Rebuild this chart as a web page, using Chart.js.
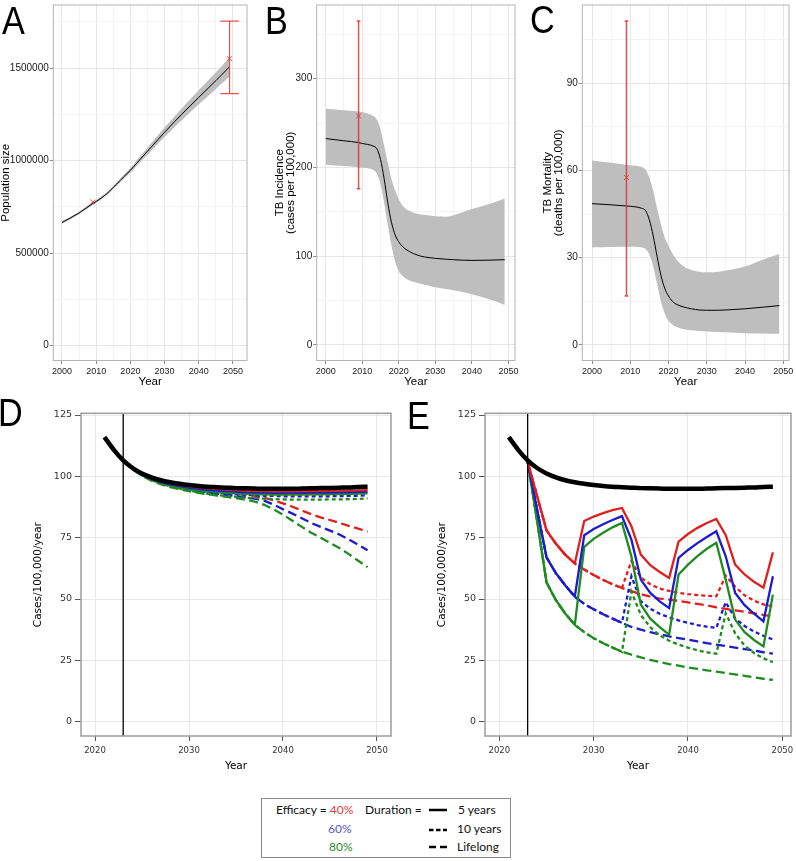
<!DOCTYPE html>
<html><head><meta charset="utf-8">
<script src="https://cdn.jsdelivr.net/npm/chart.js@4.4.0/dist/chart.umd.min.js"></script>
<style>
html,body{margin:0;padding:0;background:#fff;}
body{width:796px;height:861px;position:relative;overflow:hidden;}
.pw{position:absolute;}
.lt{position:absolute;font-family:'Liberation Sans',Arial,sans-serif;font-size:38px;line-height:38px;color:#000;transform:scaleX(0.9);transform-origin:left top;}
#legend{position:absolute;left:261px;top:798px;width:250px;height:60px;border:1px solid #8a8a8a;box-sizing:border-box;font-family:Lato,'Open Sans',sans-serif;font-size:12px;color:#111;}
.lg{position:absolute;white-space:nowrap;line-height:16px;}
.lg svg{display:block;}
</style></head><body>
<div class="pw" style="left:0;top:0;width:265px;height:395px"><canvas id="cA"></canvas></div>
<div class="pw" style="left:265px;top:0;width:265px;height:395px"><canvas id="cB"></canvas></div>
<div class="pw" style="left:530px;top:0;width:266px;height:395px"><canvas id="cC"></canvas></div>
<div class="pw" style="left:0;top:395px;width:400px;height:380px"><canvas id="cD"></canvas></div>
<div class="pw" style="left:400px;top:395px;width:396px;height:380px"><canvas id="cE"></canvas></div>
<div class="lt" style="left:2px;top:2px">A</div>
<div class="lt" style="left:265px;top:2px">B</div>
<div class="lt" style="left:530px;top:1px">C</div>
<div class="lt" style="left:-2px;top:394px">D</div>
<div class="lt" style="left:407px;top:397px">E</div>
<div id="legend">
  <div class="lg" style="left:14px;top:3px">Efficacy = <span style="color:#e03a3a">40%</span></div>
  <div class="lg" style="left:66px;top:21.5px;color:#5656d2">60%</div>
  <div class="lg" style="left:67px;top:40px;color:#2a8c2a">80%</div>
  <div class="lg" style="left:103px;top:3px">Duration =</div>
  <div class="lg" style="left:166px;top:3px"><svg width="20" height="16"><line x1="1" y1="8" x2="19" y2="8" stroke="#000" stroke-width="2.5"/></svg></div>
  <div class="lg" style="left:166px;top:21.5px"><svg width="20" height="16"><line x1="1" y1="9" x2="19" y2="9" stroke="#000" stroke-width="2.5" stroke-dasharray="4.5,2.5"/></svg></div>
  <div class="lg" style="left:166px;top:40px"><svg width="20" height="16"><line x1="1" y1="8" x2="19" y2="8" stroke="#000" stroke-width="2.5" stroke-dasharray="7,4"/></svg></div>
  <div class="lg" style="left:196px;top:3px">5 years</div>
  <div class="lg" style="left:195px;top:21.5px">10 years</div>
  <div class="lg" style="left:195px;top:40px">Lifelong</div>
</div>
<script>
// ---------------- DATA ----------------
const yearsABC = [2000,2005,2009,2010,2013,2014,2015,2016,2017,2018,2019,2020,2021,2022,2024,2026,2028,2030,2033,2035,2040,2045,2049];

// Panel A: population size
const popMid   = [665000,717000,768000,779000,819000,836000,855000,873000,892000,911000,929000,947000,968000,989000,1030000,1071000,1112000,1153000,1212000,1250000,1342000,1432000,1507000];
const popUpper = [672000,724000,776000,787000,827000,844000,864000,882000,902000,922000,941000,960000,982000,1004000,1048000,1092000,1135000,1179000,1241000,1282000,1380000,1477000,1559000];
const popLower = [658000,710000,760000,771000,811000,828000,846000,864000,882000,900000,917000,934000,954000,974000,1012000,1050000,1089000,1127000,1183000,1218000,1304000,1387000,1455000];
const popObsYears = [2009, 2049];
const popObsValues = [776000, 1551000];
const popErrYear = [2049];
const popErrLow = [1362000];
const popErrHigh = [1754000];

// Panel B: TB incidence
const incMid   = [232.5,230,228,227,224,221,209,187,160,138,124,116,111,107.5,103,100,98.5,97.5,96.5,96,95.2,95.5,96];
const incUpper = [266,264.5,263,262.5,258,254,243,224,205,187,174,164,157,153,149,147,146,145,144.5,146,153,159,165];
const incLower = [203,201.5,200,199.5,197,193,181,160,135,112,94,83,78,74.5,71,69,67,65,63,61.5,57,51,45];
const incObsYear = [2009];
const incObsValue = [258];
const incErrLow = [176];
const incErrHigh = [365];

// Panel C: TB mortality
const mortMid   = [48.6,48.2,47.8,47.7,47,46.2,43,37.5,30.5,24,19.5,16.8,15,14,13,12.4,12,11.9,11.9,12,12.4,13,13.5];
const mortUpper = [63.5,62.7,62,61.8,61.2,60.3,57.5,53,47,41.5,37,34,31.5,29.5,27,25.8,25.2,25,25.2,25.6,27,29.5,31.3];
const mortLower = [33.6,33.7,33.8,33.8,33.5,33,31,27,21,15,10.8,8.3,7,6.2,5.4,5,4.8,4.6,4.4,4.3,4,3.9,3.8];
const mortObsYear = [2009];
const mortObsValue = [57.6];
const mortErrLow = [16.8];
const mortErrHigh = [111.5];

// Panels D & E: projected incidence
const baseYears = [2021,2022,2023,2024,2025,2026,2027,2028,2029,2030,2031,2032,2033,2034,2035,2036,2037,2038,2039,2040,2041,2042,2043,2044,2045,2046,2047,2048,2049];
const baseline  = [116,110.8,106.5,103.4,101.2,99.6,98.4,97.6,97.0,96.5,96.1,95.8,95.6,95.4,95.2,95.1,95.0,94.9,94.9,94.9,94.9,95.0,95.1,95.2,95.3,95.4,95.5,95.7,95.8];
const scenYears = [2023,2024,2025,2026,2027,2028,2029,2030,2031,2032,2033,2034,2035,2036,2037,2038,2039,2040,2041,2042,2043,2044,2045,2046,2047,2048,2049];
const interventionYear = 2023;

// D
const D_r5  = [106.5,103.2,100.9,99.2,98.0,97.1,96.4,95.9,95.4,95.1,94.8,94.6,94.4,94.2,94.1,94.0,93.9,93.9,93.9,94.0,94.0,94.1,94.1,94.2,94.2,94.3,94.4];
const D_b5  = [106.5,103.1,100.7,98.9,97.6,96.7,96.0,95.4,94.9,94.5,94.2,94.0,93.8,93.6,93.5,93.4,93.3,93.3,93.3,93.3,93.4,93.4,93.5,93.5,93.6,93.7,93.8];
const D_g5  = [106.5,102.9,100.4,98.6,97.2,96.2,95.4,94.8,94.3,93.9,93.6,93.3,93.1,92.9,92.8,92.7,92.6,92.6,92.6,92.6,92.7,92.7,92.8,92.8,92.9,93.0,93.1];
const D_r10 = [106.5,103.2,100.9,99.2,98.0,97.0,96.2,95.6,95.0,94.6,94.2,93.9,93.6,93.4,93.2,93.0,92.9,92.8,92.7,92.7,92.7,92.7,92.8,92.8,92.9,93.0,93.1];
const D_b10 = [106.5,103.1,100.7,98.9,97.5,96.5,95.6,94.9,94.3,93.8,93.4,93.0,92.7,92.5,92.3,92.1,92.0,91.9,91.8,91.8,91.8,91.8,91.9,91.9,92.0,92.1,92.3];
const D_g10 = [106.5,102.9,100.4,98.5,97.0,95.9,95.0,94.2,93.5,92.9,92.4,92.0,91.6,91.3,91.1,90.9,90.7,90.6,90.5,90.5,90.5,90.5,90.6,90.6,90.7,90.8,91.0];
const D_rL  = [106.5,103.2,100.9,99.2,98.0,97.0,96.2,95.5,94.9,94.4,94.0,93.6,93.1,92.6,92.0,91.2,90.2,89.0,87.6,86.1,84.6,83.3,82.2,81.0,79.8,78.7,77.5];
const D_bL  = [106.5,103.1,100.7,98.9,97.5,96.4,95.5,94.8,94.1,93.5,93.0,92.5,92.0,91.4,90.9,90.1,88.5,86.6,84.8,82.9,81.0,79.4,77.9,76.3,74.3,72.1,69.9];
const D_gL  = [106.5,102.8,100.2,98.2,96.8,95.6,94.7,94.0,93.3,92.7,92.1,91.6,91.1,90.5,89.7,88.4,86.5,84.4,81.9,79.4,77.0,75.0,72.9,70.8,68.3,65.6,63.0];

// E
const E_r5  = [106,92,78,72.5,68,64.5,81.8,83.6,85,86.2,87.1,79.7,68.1,63.8,61,58.6,73.4,76.5,79,81,82.6,76,64,60,57,54.6,69];
const E_b5  = [106,86.5,67,60.5,55.5,51,76,78.5,80.5,82.2,83.8,74.2,57.9,52.5,49,46.3,66.8,70,72.8,75.3,77.6,67.4,52.5,47.5,44,40.9,59.3];
const E_g5  = [106,82,56.8,49.5,44,39.5,71.3,74.5,77,79.2,81,67.4,47.7,42,38.5,35.5,60,64,67.5,70.5,72.9,57.9,41.6,36.5,33.3,30.7,51.8];
const E_r10 = [106,92,78,72.5,68,64.5,62,59.8,57.8,56,54.5,65.5,58.8,56,54.3,53.3,52.5,52,51.6,51.3,51.1,59.5,55,51.5,49.3,47.8,47];
const E_b10 = [106,86.5,67,60.5,55.5,51,48,45.8,43.8,42,40.3,59.3,49.1,46,44,42.5,41.3,40.3,39.4,38.7,38.2,48.7,42,39,36.8,35,33.5];
const E_g10 = [106,82,56.8,49.5,44,39.5,36.5,34,32,30.2,28.5,53,43.5,38.5,35.2,33,31.4,30.2,29.1,28.3,27.7,44.2,36,31,28,25.8,24.3];
const E_rL  = [106,92,78,72.5,68,64.5,62,59.8,57.8,56,54.5,53.2,52,51,50.2,49.8,49.2,48.6,48,47.4,46.6,46,45.4,44.8,44.2,43.5,42.9];
const E_bL  = [106,86.5,67,60.5,55.5,51,48,45.8,43.8,42,40.3,38.6,37.5,36.5,35.6,34.8,34.1,33.4,32.7,32.0,31.4,30.8,30.2,29.6,29,28.3,27.7];
const E_gL  = [106,82,56.8,49.5,44,39.5,36.5,34,32,30.2,28.5,27.3,26.2,25.2,24.3,23.5,22.8,22.1,21.5,20.9,20.4,19.8,19.3,18.7,18.1,17.5,17];

// ---------------- STYLE / HELPERS ----------------
const RED = '#e0201f', BLUE = '#1c1ccf', GREEN = '#1e8c1e';
const ERR = 'rgba(222,52,52,0.85)';
const BAND = '#bebebe';
const pts = (xs, ys) => xs.map((x, i) => ({x, y: ys[i]}));
const isMajor = (v, m) => Math.abs(v / m - Math.round(v / m)) < 1e-6;

const framePlugin = {
  id: 'frame',
  afterDraw(chart, args, o) {
    if (!o || !o.color) return;
    const {ctx, chartArea: a} = chart;
    ctx.save();
    ctx.strokeStyle = o.color; ctx.lineWidth = o.width;
    ctx.strokeRect(a.left, a.top, a.right - a.left, a.bottom - a.top);
    ctx.restore();
  }
};
Chart.register(framePlugin);

function axis(o) {
  return {
    type: 'linear', min: o.min, max: o.max,
    ticks: {
      stepSize: o.step, includeBounds: false, autoSkip: false, maxRotation: 0, minRotation: 0,
      padding: o.pad, color: o.tickColor, font: o.font,
      callback: (v) => isMajor(v, o.major) ? String(v) : ''
    },
    grid: {
      color: (c) => (c.tick && isMajor(c.tick.value, o.major)) ? o.gridMajor : o.gridMinor,
      lineWidth: o.gridW, tickLength: o.tl, tickWidth: 1,
      tickColor: (c) => (c.tick && isMajor(c.tick.value, o.major)) ? o.tickMark : 'rgba(0,0,0,0)'
    },
    border: {display: false},
    title: {display: true, text: o.title, color: '#000', font: o.titleFont, padding: o.titlePad},
    afterBuildTicks: (s) => {
      const t = [];
      const start = Math.ceil(o.min / o.step - 1e-9) * o.step;
      for (let v = start; v <= o.max + 1e-9; v += o.step) t.push({value: Math.round(v * 1e6) / 1e6});
      s.ticks = t;
    },
    afterFit: (s) => {
      if (o.horizontal) s.height = o.size; else s.width = o.size;
      s.paddingLeft = 0; s.paddingRight = 0; s.paddingTop = 0; s.paddingBottom = 0;
    }
  };
}

function baseOptions(pad, xAxis, yAxis, frame) {
  return {
    responsive: true, maintainAspectRatio: false, animation: false, events: [],
    layout: {padding: pad},
    plugins: {legend: {display: false}, tooltip: {enabled: false}, frame: frame},
    elements: {point: {radius: 0}},
    scales: {x: xAxis, y: yAxis}
  };
}

const FA = "'Liberation Sans', Arial, sans-serif";
const FD = "'DejaVu Sans', sans-serif";

function abcAxes(xr, yr) {
  const x = axis({horizontal: true, min: xr[0], max: xr[1], step: 5, major: 10, pad: 2.5,
    tickColor: '#1a1a1a', font: {family: FA, size: 9}, gridMajor: '#e6e6e6', gridMinor: '#f3f3f3', gridW: 1,
    tl: 3.5, tickMark: '#8a8a8a', title: 'Year', titleFont: {family: FA, size: 11.5, lineHeight: '12px'},
    titlePad: {top: 0, bottom: 7}, size: 34.5});
  const y = axis({horizontal: false, min: yr[0], max: yr[1], step: yr[2], major: yr[3], pad: 1,
    tickColor: '#1a1a1a', font: {family: FA, size: 10}, gridMajor: '#e6e6e6', gridMinor: '#f3f3f3', gridW: 1,
    tl: 3.5, tickMark: '#8a8a8a', title: yr[4], titleFont: {family: FA, size: 11.5, lineHeight: '11px'},
    titlePad: {top: yr[5], bottom: 0}, size: yr[6]});
  return [x, y];
}

function abcDatasets(mid, up, lo, obsX, obsY, errX, errLo, errHi, capW, errW) {
  const ex = errX[0];
  return [
    {data: pts(obsX, obsY), showLine: false, pointStyle: 'crossRot', pointRadius: 3.5, pointBorderColor: ERR, pointBorderWidth: 1, pointBackgroundColor: ERR},
    {data: [{x: ex, y: errLo[0]}, {x: ex, y: errHi[0]}], borderColor: ERR, borderWidth: errW, pointRadius: 0},
    {data: [{x: ex - capW, y: errLo[0]}, {x: ex + capW, y: errLo[0]}], borderColor: ERR, borderWidth: errW, pointRadius: 0},
    {data: [{x: ex - capW, y: errHi[0]}, {x: ex + capW, y: errHi[0]}], borderColor: ERR, borderWidth: errW, pointRadius: 0},
    {data: pts(yearsABC, mid), borderColor: '#000', borderWidth: 1, cubicInterpolationMode: 'monotone', pointRadius: 0},
    {data: pts(yearsABC, up), borderColor: 'rgba(0,0,0,0)', borderWidth: 0, cubicInterpolationMode: 'monotone', fill: '+1', backgroundColor: BAND, pointRadius: 0},
    {data: pts(yearsABC, lo), borderColor: 'rgba(0,0,0,0)', borderWidth: 0, cubicInterpolationMode: 'monotone', fill: false, pointRadius: 0}
  ];
}

const frameABC = {color: '#b3b3b3', width: 1};

{
  const [x, y] = abcAxes([1997.46, 2054.1], [-80800, 1841000, 250000, 500000, 'Population size', 0, 53.3]);
  new Chart(document.getElementById('cA'), {
    type: 'line',
    data: {datasets: abcDatasets(popMid, popUpper, popLower, popObsYears, popObsValues, popErrYear, popErrLow, popErrHigh, 2.7, 1.2)},
    options: baseOptions({left: 0, right: 18, top: 3.3, bottom: 0}, x, y, frameABC)
  });
}
{
  const [x, y] = abcAxes([1997.54, 2051.8], [-17.6, 383, 50, 100, ['TB Incidence', '(cases per 100,000)'], 9, 51.7]);
  new Chart(document.getElementById('cB'), {
    type: 'line',
    data: {datasets: abcDatasets(incMid, incUpper, incLower, incObsYear, incObsValue, incObsYear, incErrLow, incErrHigh, 0.5, 1.5)},
    options: baseOptions({left: 0, right: 15, top: 3.3, bottom: 0}, x, y, frameABC)
  });
}
{
  const [x, y] = abcAxes([1997.46, 2051.5], [-5.4, 117, 15, 30, ['TB Mortality', '(deaths per 100,000)'], 12, 52.3]);
  new Chart(document.getElementById('cC'), {
    type: 'line',
    data: {datasets: abcDatasets(mortMid, mortUpper, mortLower, mortObsYear, mortObsValue, mortObsYear, mortErrLow, mortErrHigh, 0.5, 1.5)},
    options: baseOptions({left: 0, right: 7, top: 3.3, bottom: 0}, x, y, frameABC)
  });
}

const yMinDE = -5.84, yMaxDE = 125.7;
function deAxes(xr, yTitlePad, yWidth) {
  const x = axis({horizontal: true, min: xr[0], max: xr[1], step: 10, major: 10, pad: 5,
    tickColor: '#333', font: {family: FD, size: 8.5}, gridMajor: '#e8e8e8', gridMinor: '#e8e8e8', gridW: 1,
    tl: 5, tickMark: '#555', title: 'Year', titleFont: {family: FD, size: 10.5, lineHeight: '12px'},
    titlePad: {top: 0, bottom: 2.3}, size: 39});
  const y = axis({horizontal: false, min: yMinDE, max: yMaxDE, step: 25, major: 25, pad: 3,
    tickColor: '#333', font: {family: FD, size: 9.5}, gridMajor: '#e8e8e8', gridMinor: '#e8e8e8', gridW: 1,
    tl: 6, tickMark: '#555', title: 'Cases/100,000/year', titleFont: {family: FD, size: 10.5, lineHeight: '12px'},
    titlePad: {top: yTitlePad, bottom: 0}, size: yWidth});
  return [x, y];
}
const LONG = [9, 4.5], SHORT = [4, 3];
function sc(vals, color, dash) {
  return {data: pts(scenYears, vals), borderColor: color, borderWidth: 2.3, borderDash: dash || [], pointRadius: 0, tension: 0};
}
function baseDS() { return {data: pts(baseYears, baseline), borderColor: '#000', borderWidth: 4.5, cubicInterpolationMode: 'monotone', pointRadius: 0}; }
function vlineDS() { return {data: [{x: interventionYear, y: yMinDE - 5}, {x: interventionYear, y: yMaxDE + 5}], borderColor: '#000', borderWidth: 1.3, pointRadius: 0}; }
const frameDE = {color: '#9d9d9d', width: 1.5};

{
  const [x, y] = deAxes([2018.51, 2051.49], 32, 81);
  new Chart(document.getElementById('cD'), {
    type: 'line',
    data: {datasets: [baseDS(), vlineDS(),
      sc(D_r5, RED), sc(D_b5, BLUE), sc(D_g5, GREEN),
      sc(D_r10, RED, SHORT), sc(D_b10, BLUE, SHORT), sc(D_g10, GREEN, SHORT),
      sc(D_rL, RED, LONG), sc(D_bL, BLUE, LONG), sc(D_gL, GREEN, LONG)]},
    options: baseOptions({left: 0, right: 9, top: 18.3, bottom: 0}, x, y, frameDE)
  });
}
{
  const [x, y] = deAxes([2018.48, 2050.92], 36.5, 85);
  new Chart(document.getElementById('cE'), {
    type: 'line',
    data: {datasets: [baseDS(), vlineDS(),
      sc(E_r5, RED), sc(E_b5, BLUE), sc(E_g5, GREEN),
      sc(E_r10, RED, SHORT), sc(E_b10, BLUE, SHORT), sc(E_g10, GREEN, SHORT),
      sc(E_rL, RED, LONG), sc(E_bL, BLUE, LONG), sc(E_gL, GREEN, LONG)]},
    options: baseOptions({left: 0, right: 5, top: 18.3, bottom: 0}, x, y, frameDE)
  });
}
</script>
</body></html>
